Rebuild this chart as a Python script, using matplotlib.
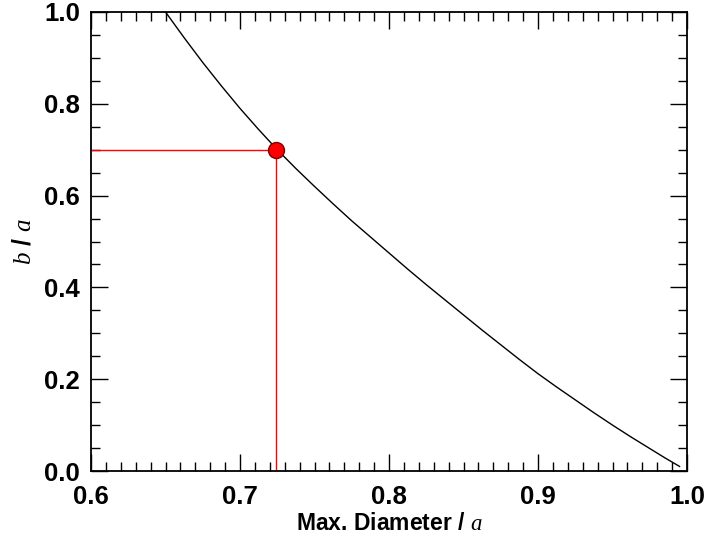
import matplotlib
matplotlib.use("Agg")
import matplotlib.pyplot as plt
from matplotlib.ticker import MultipleLocator

plt.rcParams['font.family'] = ['Liberation Sans', 'DejaVu Sans']
plt.rcParams['mathtext.fontset'] = 'custom'
plt.rcParams['mathtext.it'] = 'Liberation Serif:italic'
plt.rcParams['mathtext.rm'] = 'Liberation Serif'

# Curve data
max_diam = [0.65, 0.6625, 0.675, 0.6875, 0.70, 0.7125, 0.725, 0.7375, 0.75,
            0.7625, 0.775, 0.7875, 0.80, 0.8125, 0.825, 0.8375, 0.85,
            0.8625, 0.875, 0.8875, 0.90, 0.9125, 0.925, 0.9375, 0.95,
            0.9625, 0.975, 0.985, 0.995]
b_over_a = [1.000, 0.944, 0.890, 0.839, 0.790, 0.744, 0.700, 0.659, 0.620,
            0.582, 0.545, 0.510, 0.475, 0.440, 0.406, 0.373, 0.340,
            0.307, 0.275, 0.243, 0.212, 0.183, 0.155, 0.127, 0.100,
            0.074, 0.049, 0.029, 0.010]

# Highlighted point
pt_x = 0.724
pt_y = 0.70

x_range = [0.6, 1.0]
y_range = [0.0, 1.0]
x_ticks = [0.6, 0.7, 0.8, 0.9, 1.0]
y_ticks = [0.0, 0.2, 0.4, 0.6, 0.8, 1.0]

fig = plt.figure(figsize=(7.06, 5.38), dpi=100)
ax = fig.add_axes([0.1289, 0.1245, 0.8442, 0.8532])

ax.plot(max_diam, b_over_a, color='black', lw=1.0)
ax.plot([x_range[0], pt_x], [pt_y, pt_y], color='red', lw=1.0)
ax.plot([pt_x, pt_x], [y_range[0], pt_y], color='red', lw=1.0)
ax.plot([pt_x], [pt_y], 'o', color='red', markersize=11.5,
        markeredgecolor='#800000', markeredgewidth=1.0, zorder=5)

ax.set_xlim(x_range)
ax.set_ylim(y_range)
ax.set_xticks(x_ticks)
ax.set_yticks(y_ticks)
ax.xaxis.set_minor_locator(MultipleLocator(0.01))
ax.yaxis.set_minor_locator(MultipleLocator(0.05))
ax.set_xticklabels([f"{v:.1f}" for v in x_ticks], fontsize=18.5, fontweight='bold')
ax.set_yticklabels([f"{v:.1f}" for v in y_ticks], fontsize=18.5, fontweight='bold')

ax.tick_params(which='both', direction='in', top=True, right=True, width=1.0)
ax.tick_params(which='major', length=12)
ax.tick_params(axis='x', which='major', pad=10)
ax.tick_params(axis='y', which='major', pad=8)
ax.tick_params(which='minor', length=6.5)
for s in ax.spines.values():
    s.set_linewidth(1.3)

ax.set_xlabel("Max. Diameter / $a$", fontsize=16.5, fontweight='bold', labelpad=2)
ax.set_ylabel("$b$ / $a$", fontsize=18, fontweight='bold', labelpad=6)

fig.savefig("out.png", dpi=100)
